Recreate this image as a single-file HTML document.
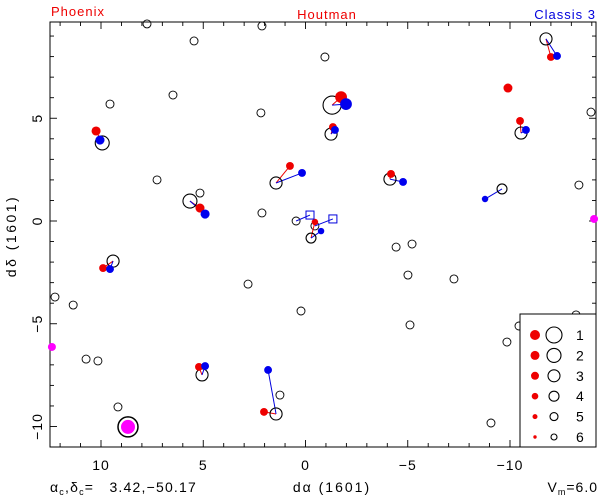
<!DOCTYPE html>
<html><head><meta charset="utf-8"><style>
body{margin:0;background:#fff}
svg{display:block;font-family:"Liberation Sans",sans-serif}
</style></head><body>
<svg id="chart" width="600" height="497" viewBox="0 0 600 497" xmlns="http://www.w3.org/2000/svg">
<text x="51" y="16" fill="#e00" font-size="13" letter-spacing="1">Phoenix</text>
<text x="327" y="19" fill="#e00" font-size="13" text-anchor="middle" letter-spacing="1">Houtman</text>
<text x="596" y="19" fill="#00d" font-size="13" text-anchor="end" letter-spacing="1">Classis 3</text>
<text transform="translate(16,236) rotate(-90)" font-size="14" text-anchor="middle" letter-spacing="2.5">dδ  (1601)</text>
<text x="332" y="492" font-size="14" text-anchor="middle" letter-spacing="2">dα  (1601)</text>
<text x="50" y="492" font-size="14" letter-spacing="1.2" xml:space="preserve">α<tspan font-size="9" dy="3">c</tspan><tspan dy="-3">,δ</tspan><tspan font-size="9" dy="3">c</tspan><tspan dy="-3">=   3.42,−50.17</tspan></text>
<text x="598" y="492" font-size="14" text-anchor="end" letter-spacing="1">V<tspan font-size="9" dy="3">m</tspan><tspan dy="-3">=6.0</tspan></text>
<g id="plot"></g>
</svg>
<script>
// ---- data (dα, dδ in units of the 1601 chart) ----
const fieldX = [7.75,2.13,5.45,-0.95,9.56,6.48,2.18,-13.96,7.26,5.16,2.13,-13.37,-4.43,-5.21,0.46,-5.01,-7.26,2.81,0.22,12.25,11.36,10.73,10.15,-5.11,-10.44,-9.85,-13.23,9.17,1.25,-9.07,-0.46];
const fieldY = [9.59,9.49,8.76,7.98,5.69,6.13,5.26,5.30,2.00,1.36,0.39,1.75,-1.27,-1.12,0.00,-2.63,-2.82,-3.07,-4.38,-3.70,-4.09,-6.72,-6.81,-5.06,-5.11,-5.89,-4.57,-9.05,-8.47,-9.83,-0.24];
const starX = [9.94,-1.30,-1.25,1.44,-4.13,-9.61,-11.76,-10.54,5.65,-0.27,9.41,5.06,1.44];
const starY = [3.80,5.64,4.23,1.85,2.04,1.56,8.86,4.28,0.97,-0.83,-1.95,-7.49,-9.39];
const starMag = [3.5,1.8,4.3,4.3,4.3,5.2,4.3,4.3,3.5,5.2,4.3,4.3,4.3];
const redX = [10.24,-1.74,-1.34,0.76,-4.18,null,-12.00,-10.49,5.16,-0.46,9.90,5.21,2.03];
const redY = [4.38,6.03,4.57,2.68,2.29,null,7.98,4.87,0.63,-0.05,-2.29,-7.10,-9.29];
const blueX = [10.05,-1.98,-1.44,0.17,-4.77,-8.78,-12.30,-10.78,4.91,-0.76,9.56,4.91,1.83];
const blueY = [3.94,5.69,4.43,2.34,1.90,1.07,8.03,4.43,0.34,-0.49,-2.34,-7.06,-7.25];
const loneRedX = [-9.90], loneRedY = [6.47];
const sqFromX = [0.46,-0.46], sqFromY = [0.00,-0.24];
const sqX = [-0.22,-1.34], sqY = [0.29,0.10];
const magX = [-14.11,12.40,8.68], magY = [0.10,-6.13,-10.02], magMag = [6,6,1];
const bigX = [8.68], bigY = [-10.02], bigMag = [1];
const xTicks = [10,5,0,-5,-10];
const yTicks = [5,0,-5,-10];
const legendLabels = ["1","2","3","4","5","6"];

const NS="http://www.w3.org/2000/svg";
const L=50,R=596,T=22,B=447;
const X0=305.5,SX=20.45,Y0=221,SY=20.55;
const xs=v=>X0-v*SX, ys=v=>Y0-v*SY;
const rad=m=>11.2-1.2*m;
const g=document.getElementById('plot');
function mk(t,a,p){const e=document.createElementNS(NS,t);for(const k in a)e.setAttribute(k,a[k]);(p||g).appendChild(e);return e;}

const fr=mk('rect',{x:L,y:T,width:R-L,height:B-T,fill:'none',stroke:'#000','stroke-width':1});


for(let v=-15;v<=13;v++){const x=xs(v);if(x<L||x>R)continue;const len=v%5===0?7:4;
 const t1=mk('line',{x1:x,y1:B,x2:x,y2:B-len,stroke:'#000','stroke-width':0.9});
 
 
 const t2=mk('line',{x1:x,y1:T,x2:x,y2:T+len,stroke:'#000','stroke-width':0.9});
 
 }
for(let v=-11;v<=10;v++){const y=ys(v);if(y<T||y>B)continue;const len=v%5===0?7:4;
 const t1=mk('line',{x1:L,y1:y,x2:L+len,y2:y,stroke:'#000','stroke-width':0.9});
 
 
 const t2=mk('line',{x1:R,y1:y,x2:R-len,y2:y,stroke:'#000','stroke-width':0.9});
 
 }
xTicks.forEach(v=>{const t=mk('text',{x:xs(v),y:470,'font-size':14,'text-anchor':'middle','letter-spacing':1});t.textContent=v<0?'−'+(-v):v;
 
 });
yTicks.forEach(v=>{const t=mk('text',{transform:`translate(42,${ys(v)}) rotate(-90)`,'font-size':14,'text-anchor':'middle','letter-spacing':1});t.textContent=v<0?'−'+(-v):v;
 
 });

fieldX.forEach((v,i)=>{const c=mk('circle',{cx:xs(v),cy:ys(fieldY[i]),r:4,fill:'none',stroke:'#000','stroke-width':0.9});
 
 });
starX.forEach((v,i)=>{const cx=xs(v),cy=ys(starY[i]),r=rad(starMag[i]),dr=Math.max(3,r*0.65);
 if(redX[i]!==null){const l=mk('line',{x1:cx,y1:cy,x2:xs(redX[i]),y2:ys(redY[i]),stroke:'#e00'});
  
  }
 const lb=mk('line',{x1:cx,y1:cy,x2:xs(blueX[i]),y2:ys(blueY[i]),stroke:'#00d'});
 
 
 const c=mk('circle',{cx,cy,r,fill:'none',stroke:'#000','stroke-width':1.1});
 
 
 if(redX[i]!==null){const d=mk('circle',{cx:xs(redX[i]),cy:ys(redY[i]),r:dr,fill:'#e00'});
  
  }
 const b=mk('circle',{cx:xs(blueX[i]),cy:ys(blueY[i]),r:dr,fill:'#00e'});
 
 });
loneRedX.forEach((v,i)=>{const d=mk('circle',{cx:xs(v),cy:ys(loneRedY[i]),r:4.5,fill:'#e00'});
 
 });
sqX.forEach((v,i)=>{const l=mk('line',{x1:xs(sqFromX[i]),y1:ys(sqFromY[i]),x2:xs(v),y2:ys(sqY[i]),stroke:'#00d'});
 
 
 const s=mk('rect',{x:xs(v)-4,y:ys(sqY[i])-4,width:8,height:8,fill:'none',stroke:'#00d'});
 
 });
bigX.forEach((v,i)=>{const c=mk('circle',{cx:xs(v),cy:ys(bigY[i]),r:rad(bigMag[i]),fill:'none',stroke:'#000','stroke-width':1.5});
 
 });
magX.forEach((v,i)=>{const c=mk('circle',{cx:xs(v),cy:ys(magY[i]),r:magMag[i]===1?7:4,fill:'#f0f'});
 
 });

const lg=mk('g',{});


mk('rect',{x:520,y:314,width:76,height:133,fill:'#fff',stroke:'#000'},lg);
const redR=[5,4.5,4,3.3,2.5,1.7], circR=[8,7,6,5,4,3];
legendLabels.forEach((s,i)=>{const y=335+i*20.4;
 const e=mk('g',{},lg);
 
 
 mk('circle',{cx:535,cy:y,r:redR[i],fill:'#e00'},e);
 mk('circle',{cx:554,cy:y,r:circR[i],fill:'none',stroke:'#000','stroke-width':1.1},e);
 const t=mk('text',{x:576,y:y+5,'font-size':14},e);t.textContent=s;});
</script>
</body></html>
